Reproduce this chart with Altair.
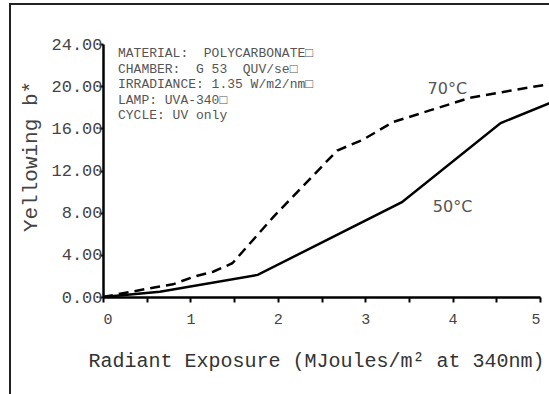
import altair as alt
import pandas as pd

# Yellowing (b*) vs. radiant exposure for polycarbonate at two chamber temperatures
x_50 = [0, 0.65, 1.77, 3.42, 4.55, 5.11]
y_50 = [0, 0.5, 2.1, 9.0, 16.5, 18.4]

x_70 = [0, 0.65, 0.8, 1.03, 1.26, 1.48, 1.95, 2.68, 2.97, 3.32, 3.74, 4.2, 4.54, 5.11]
y_70 = [0, 1.0, 1.2, 1.9, 2.4, 3.2, 7.6, 13.9, 14.9, 16.6, 17.7, 18.9, 19.4, 20.2]

curve_labels = ["70°C", "50°C"]
label_x = [3.94, 4.0]
label_y = [19.7, 8.5]

info_lines = [
    "MATERIAL:  POLYCARBONATE□",
    "CHAMBER:  G 53  QUV/se□",
    "IRRADIANCE: 1.35 W/m2/nm□",
    "LAMP: UVA-340□",
    "CYCLE: UV only",
]

x_ticks = [i * 0.5 for i in range(11)]
y_ticks = [i * 2 for i in range(13)]

df = pd.concat([
    pd.DataFrame({"x": x_50, "y": y_50, "series": "50", "i": range(len(x_50))}),
    pd.DataFrame({"x": x_70, "y": y_70, "series": "70", "i": range(len(x_70))}),
])
lab = pd.DataFrame({"x": label_x, "y": label_y, "t": curve_labels})

MONO = "Liberation Mono"

x_enc = alt.X(
    "x:Q",
    scale=alt.Scale(domain=[0, 5], nice=False, zero=False),
    axis=alt.Axis(
        values=x_ticks,
        labelExpr="datum.value % 1 == 0 ? format(datum.value, 'd') : ''",
        title="Radiant Exposure (MJoules/m² at 340nm)",
        titleX=213, titleY=63, titleAlign="center", titleBaseline="middle",
        titleFont=MONO, titleFontSize=20, titleFontWeight="normal", titleColor="#333",
        labelFont=MONO, labelFontSize=15, labelColor="#444", labelPadding=9,
        tickSize=5, tickWidth=2, tickColor="#000",
        domainColor="#000", domainWidth=2.5, grid=False, labelOverlap=False,
    ),
)
y_enc = alt.Y(
    "y:Q",
    scale=alt.Scale(domain=[0, 24], nice=False),
    axis=alt.Axis(
        values=y_ticks,
        labelExpr="datum.value % 4 == 0 ? format(datum.value, '.2f') : ''",
        title="Yellowing  b*",
        titleX=-73, titleY=112, titleAlign="center", titleBaseline="middle",
        titleFont=MONO, titleFontSize=21, titleFontWeight="normal", titleColor="#444",
        labelFont=MONO, labelFontSize=17, labelColor="#444", labelPadding=-3,
        tickSize=4, tickWidth=2, tickColor="#000",
        domainColor="#000", domainWidth=2.5, grid=False, labelOverlap=False,
    ),
)

base = alt.Chart(df)

solid = base.transform_filter(alt.datum.series == "50").mark_line(
    color="#000", strokeWidth=2.5, clip=False
).encode(x=x_enc, y=y_enc, order="i:Q")

dashed = base.transform_filter(alt.datum.series == "70").mark_line(
    color="#000", strokeWidth=2.5, strokeDash=[10, 6], clip=False
).encode(x="x:Q", y="y:Q", order="i:Q")

labels = alt.Chart(lab).mark_text(
    font="DejaVu Sans", fontSize=16, color="#555", align="center", baseline="middle"
).encode(x="x:Q", y="y:Q", text="t:N")

# keep runs of spaces intact in SVG text
info_text = "\n".join(s.replace(" ", "\u00a0") for s in info_lines)
info = alt.Chart(pd.DataFrame({"t": [info_text]})).mark_text(
    font=MONO, fontSize=13, color="#555", align="left", baseline="top",
    lineBreak="\n", lineHeight=15.5,
).encode(x=alt.value(15), y=alt.value(3), text="t:N")

# outer frame around the figure: left edge and top edge
frame_left = alt.Chart(pd.DataFrame({"k": [0]})).mark_rule(
    color="#222", strokeWidth=2
).encode(x=alt.value(-93), y=alt.value(-41), y2=alt.value(400))

frame_top = alt.Chart(pd.DataFrame({"k": [0]})).mark_rule(
    color="#222", strokeWidth=2
).encode(x=alt.value(-94), x2=alt.value(470), y=alt.value(-40))

chart = alt.layer(solid, dashed, labels, info, frame_left, frame_top).properties(
    width=437, height=253,
    autosize=alt.AutoSizeParams(type="none"),
    padding={"left": 103, "top": 44, "right": 9, "bottom": 97},
    background="white",
).configure_view(stroke=None)

chart.save("out.html", embed_options={"renderer": "svg", "actions": False})
